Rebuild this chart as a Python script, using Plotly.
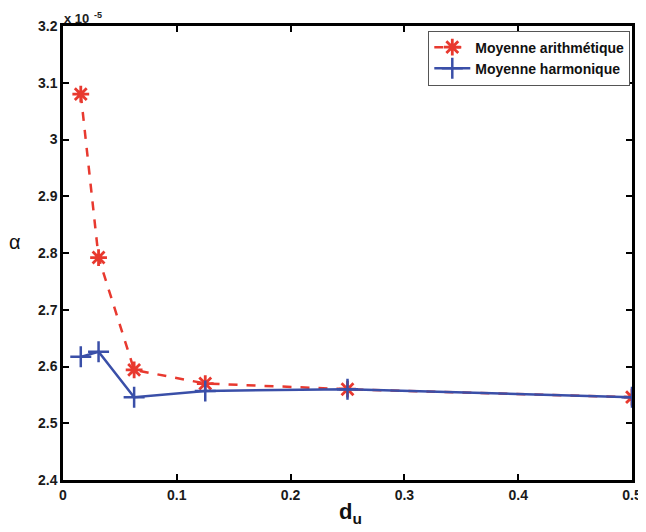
import plotly.graph_objects as go

d_u = [1/64, 1/32, 1/16, 1/8, 1/4, 1/2]
alpha_arith = [3.08, 2.792, 2.594, 2.570, 2.560, 2.546]  # x 1e-5
alpha_harm = [2.617, 2.626, 2.546, 2.557, 2.560, 2.546]  # x 1e-5
x_ticks = [0, 0.1, 0.2, 0.3, 0.4, 0.5]
x_ticktext = ["0", "0.1", "0.2", "0.3", "0.4", "0.5"]
y_ticks = [2.4, 2.5, 2.6, 2.7, 2.8, 2.9, 3.0, 3.1, 3.2]
y_ticktext = ["2.4", "2.5", "2.6", "2.7", "2.8", "2.9", "3", "3.1", "3.2"]

FONT = "Liberation Sans"

fig = go.Figure()
fig.add_trace(go.Scatter(
    x=d_u, y=alpha_arith, mode="lines+markers", name="Moyenne arithmétique",
    line=dict(color="#e8392f", width=2.5, dash="dash"),
    marker=dict(symbol="asterisk-open", size=14, color="#e8392f", line=dict(color="#e8392f", width=2.8)),
))
fig.add_trace(go.Scatter(
    x=d_u, y=alpha_harm, mode="lines+markers", name="Moyenne harmonique",
    line=dict(color="#3a4fa8", width=2.5),
    marker=dict(symbol="cross-thin-open", size=15, color="#3a4fa8", line=dict(color="#3a4fa8", width=2.5)),
))

axis_common = dict(
    showline=True, linecolor="black", linewidth=2.5, mirror="ticks",
    ticks="inside", ticklen=6, tickwidth=2, tickcolor="black",
    showgrid=False, zeroline=False, automargin=False,
    tickfont=dict(family=FONT, size=14, color="#1a1a1a", weight="bold"),
)
fig.update_xaxes(range=[0, 0.5], tickvals=x_ticks, ticktext=x_ticktext, **axis_common)
fig.update_yaxes(range=[2.4, 3.2], tickvals=y_ticks, ticktext=y_ticktext, **axis_common)

fig.update_layout(
    width=638, height=524,
    margin=dict(l=55, r=14, t=18, b=52),
    plot_bgcolor="white", paper_bgcolor="white",
    font=dict(family=FONT, color="#111"),
    showlegend=True,
    legend=dict(x=0.997, y=0.99, xanchor="right", yanchor="top",
                bordercolor="#555", borderwidth=1, bgcolor="white",
                font=dict(family=FONT, size=14, color="#111", weight="bold"),
                tracegroupgap=0, itemwidth=36),
    annotations=[
        dict(text="x 10", xref="paper", yref="paper", x=0.0, y=0.998,
             xanchor="left", yanchor="bottom", showarrow=False, borderpad=0,
             font=dict(family=FONT, size=13, color="#222", weight="bold")),
        dict(text="-5", xref="paper", yref="paper", x=0.053, y=1.01,
             xanchor="left", yanchor="bottom", showarrow=False, borderpad=0,
             font=dict(family=FONT, size=9, color="#222", weight="bold")),
        dict(text="d<sub>u</sub>", xref="paper", yref="paper", x=0.505, y=-0.038,
             xanchor="center", yanchor="top", showarrow=False,
             font=dict(family=FONT, size=22, color="#111", weight="bold")),
        dict(text="α", xref="paper", yref="paper", x=-0.085, y=0.525,
             xanchor="center", yanchor="middle", showarrow=False, font=dict(family=FONT, size=20, color="#111")),
    ],
)

fig.write_html("out.html")
